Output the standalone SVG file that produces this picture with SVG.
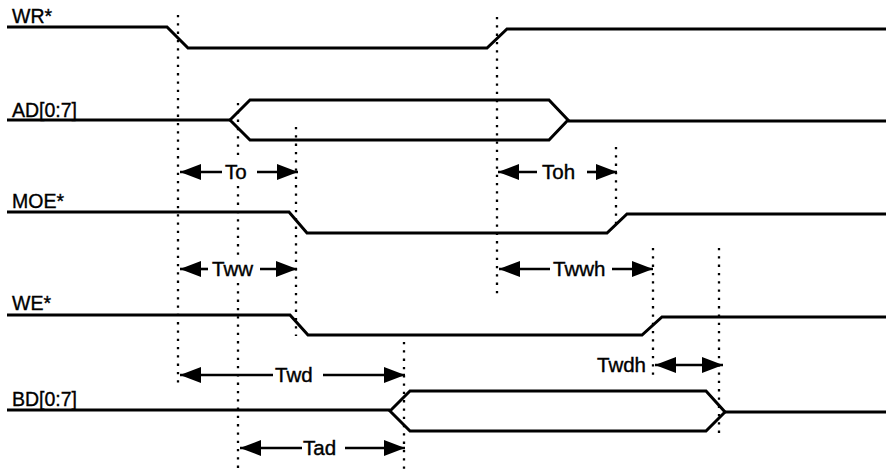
<svg xmlns="http://www.w3.org/2000/svg" width="886" height="470" viewBox="0 0 886 470">
<style>
.sig{fill:none;stroke:#000;stroke-width:3;stroke-linejoin:miter}
.dot{fill:none;stroke:#000;stroke-width:2.3;stroke-dasharray:2.3 6}
.arr{fill:none;stroke:#000;stroke-width:2.6}
.lbl{font-family:"Liberation Sans",Arial,sans-serif;font-size:19.5px;fill:#000;stroke:#000;stroke-width:0.35}
.tl{font-family:"Liberation Sans",Arial,sans-serif;font-size:20.5px;fill:#000;stroke:#000;stroke-width:0.4}
</style>
<defs>
<marker id="ah" markerUnits="userSpaceOnUse" markerWidth="21" markerHeight="18" refX="21" refY="9" orient="auto-start-reverse">
<path d="M0,1 L21,9 L0,17 Z" fill="#000"/>
</marker>
</defs>
<rect width="886" height="470" fill="#fff"/>
<g id="guides">
<line class="dot" x1="178" y1="15" x2="178" y2="386"/>
<line class="dot" x1="238" y1="103" x2="238" y2="158"/>
<line class="dot" x1="238" y1="186" x2="238" y2="256"/>
<line class="dot" x1="238" y1="283" x2="238" y2="470"/>
<line class="dot" x1="296" y1="127" x2="296" y2="336"/>
<line class="dot" x1="497" y1="17" x2="497" y2="299"/>
<line class="dot" x1="616" y1="147" x2="616" y2="228"/>
<line class="dot" x1="404" y1="342" x2="404" y2="470"/>
<line class="dot" x1="653" y1="248" x2="653" y2="378"/>
<line class="dot" x1="719" y1="248" x2="719" y2="438"/>
</g>
<g id="WR">
<text class="lbl" x="12" y="23">WR*</text>
<path class="sig" d="M7,27 H167 L188,48 H487 L507,29 H886"/>
</g>
<g id="AD">
<text class="lbl" x="12" y="117">AD[0:7]</text>
<path class="sig" d="M7,120 H230"/>
<path class="sig" d="M230,120 L250,100 H549 L568,120 L549,140 H250 Z"/>
<path class="sig" d="M568,121 H886"/>
</g>
<g id="MOE">
<text class="lbl" x="12" y="208">MOE*</text>
<path class="sig" d="M7,212 H289 L307,233 H607 L627,214 H886"/>
</g>
<g id="WE">
<text class="lbl" x="12" y="310">WE*</text>
<path class="sig" d="M7,315 H290 L308,335 H642 L662,317 H886"/>
</g>
<g id="BD">
<text class="lbl" x="12" y="406">BD[0:7]</text>
<path class="sig" d="M7,410 H390"/>
<path class="sig" d="M390,411 L410,391 H706 L725,412 L706,431 H410 Z"/>
<path class="sig" d="M725,412 H886"/>
</g>
<g id="connectors">
<line class="arr" x1="180" y1="172" x2="222" y2="172" marker-start="url(#ah)"/>
<line class="arr" x1="257" y1="172" x2="298" y2="172" marker-end="url(#ah)"/>
<line class="arr" x1="180" y1="269" x2="208" y2="269" marker-start="url(#ah)"/>
<line class="arr" x1="260" y1="269" x2="297" y2="269" marker-end="url(#ah)"/>
<line class="arr" x1="498" y1="172" x2="537" y2="172" marker-start="url(#ah)"/>
<line class="arr" x1="587" y1="172" x2="617" y2="172" marker-end="url(#ah)"/>
<line class="arr" x1="499" y1="269" x2="550" y2="269" marker-start="url(#ah)"/>
<line class="arr" x1="612" y1="269" x2="653" y2="269" marker-end="url(#ah)"/>
<line class="arr" x1="180" y1="375" x2="273" y2="375" marker-start="url(#ah)"/>
<line class="arr" x1="323" y1="375" x2="405" y2="375" marker-end="url(#ah)"/>
<line class="arr" x1="240" y1="448" x2="302" y2="448" marker-start="url(#ah)"/>
<line class="arr" x1="345" y1="448" x2="405" y2="448" marker-end="url(#ah)"/>
<line class="arr" x1="655" y1="365" x2="723" y2="365" marker-start="url(#ah)" marker-end="url(#ah)"/>
</g>
<g id="timing-labels">
<text class="tl" x="225" y="179">To</text>
<text class="tl" x="212" y="276">Tww</text>
<text class="tl" x="542" y="179">Toh</text>
<text class="tl" x="553" y="276">Twwh</text>
<text class="tl" x="275" y="382">Twd</text>
<text class="tl" x="303" y="455">Tad</text>
<text class="tl" x="597" y="372">Twdh</text>
</g>
</svg>
